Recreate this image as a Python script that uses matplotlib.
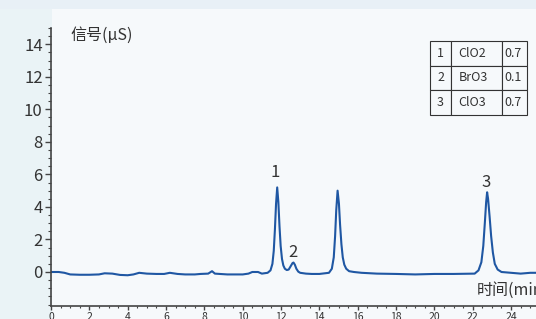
import matplotlib
matplotlib.use("Agg")
import matplotlib.pyplot as plt
from matplotlib.patches import Rectangle
from matplotlib.ticker import MultipleLocator

plt.rcParams['font.family'] = ['Noto Sans CJK SC', 'DejaVu Sans']

# Chromatogram
time_min = [0, 0.4, 0.7, 1.0, 1.5, 2.0, 2.5, 2.8, 3.2, 3.6, 4.0, 4.3, 4.6, 5.0, 5.5,
            5.9, 6.2, 6.6, 7.0, 7.5, 7.8, 8.2, 8.4, 8.55, 8.8, 9.2, 9.6, 10.0, 10.3,
            10.5, 10.8, 11.0, 11.3, 11.45, 11.55, 11.62, 11.68, 11.74, 11.8, 11.86,
            11.92, 11.98, 12.05, 12.12, 12.2, 12.3, 12.4, 12.5, 12.6, 12.65, 12.72,
            12.8, 12.9, 13.0, 13.3, 13.6, 14.0, 14.5, 14.65, 14.75, 14.82, 14.88,
            14.95, 15.02, 15.08, 15.15, 15.22, 15.3, 15.4, 15.55, 15.8, 16.2, 17, 18,
            19, 20, 21, 22.1, 22.3, 22.45, 22.55, 22.63, 22.7, 22.75, 22.8, 22.88,
            22.96, 23.05, 23.15, 23.3, 23.5, 24, 24.5, 25, 25.3]
signal_us = [0, 0.0, -0.05, -0.15, -0.17, -0.17, -0.15, -0.08, -0.1, -0.18, -0.2, -0.15,
             -0.05, -0.1, -0.12, -0.12, -0.05, -0.12, -0.15, -0.15, -0.12, -0.1, 0.05,
             -0.1, -0.12, -0.15, -0.15, -0.15, -0.1, 0.0, 0.0, -0.1, -0.05, 0.1, 0.5,
             1.3, 2.6, 4.2, 5.2, 4.3, 2.8, 1.6, 0.8, 0.4, 0.2, 0.12, 0.15, 0.35, 0.55,
             0.58, 0.45, 0.2, 0.02, -0.05, -0.1, -0.12, -0.12, -0.05, 0.2, 0.9, 2.2,
             3.8, 5.0, 4.2, 2.9, 1.7, 0.9, 0.45, 0.2, 0.05, 0.0, -0.05, -0.1, -0.12,
             -0.15, -0.12, -0.12, -0.1, 0.1, 0.6, 1.6, 3.0, 4.3, 4.9, 4.5, 3.4, 2.2,
             1.2, 0.5, 0.15, 0.0, -0.05, -0.1, -0.05, -0.05]

peak_labels = ["1", "2", "3"]
peak_label_t = [11.7, 12.64, 22.7]
peak_label_y = [6.1, 1.2, 5.5]

table_rows = [["1", "ClO2", "0.7"], ["2", "BrO3", "0.1"], ["3", "ClO3", "0.7"]]

x_ticks = list(range(0, 26, 2))
y_ticks = list(range(0, 15, 2))

W, H = 536, 319
fig = plt.figure(figsize=(W / 100, H / 100), dpi=100)
fig.patch.set_facecolor('#eaf3f6')
fig.patches.append(Rectangle((0, 1 - 9 / H), 1, 9 / H, transform=fig.transFigure,
                             facecolor='#e8f0f6', edgecolor='none', zorder=-5))
fig.patches.append(Rectangle((52 / W, 0), 1, 1 - 9 / H, transform=fig.transFigure,
                             facecolor='#f6f9fb', edgecolor='none', zorder=-5))

ax_left, ax_right, ax_top, ax_bot = 51, 536, 28, 305.5
ax = fig.add_axes([ax_left / W, 1 - ax_bot / H, (ax_right - ax_left) / W, (ax_bot - ax_top) / H])
ax.set_facecolor('none')
ax.set_zorder(2)

ax.plot(time_min, signal_us, color='#1f57a3', lw=1.5, solid_joinstyle='round')
ax.set_xlim(0, 25.3)
ax.set_ylim(-2.06, 15)

ax.set_xticks(x_ticks)
ax.set_yticks(y_ticks)
ax.xaxis.set_minor_locator(MultipleLocator(0.5))
ax.yaxis.set_minor_locator(MultipleLocator(0.5))

for s in ['top', 'right']:
    ax.spines[s].set_visible(False)
for s in ['left', 'bottom']:
    ax.spines[s].set_color('#444444')
    ax.spines[s].set_linewidth(1.2)

ax.tick_params(axis='y', which='major', length=4, width=1, colors='#444444',
               labelsize=12, labelcolor='#333333', pad=2)
ax.tick_params(axis='y', which='minor', length=2, width=0.8, colors='#444444')
ax.tick_params(axis='x', which='major', length=3, width=1, colors='#444444',
               labelsize=7.5, labelcolor='#333333', pad=2)
ax.tick_params(axis='x', which='minor', length=1.5, width=0.8, colors='#444444')

for lab, t, y in zip(peak_labels, peak_label_t, peak_label_y):
    ax.text(t, y, lab, ha='center', va='center', fontsize=12, color='#333333')

fig.text(70 / W, 1 - 35 / H, '信号(μS)', ha='left', va='center', fontsize=11.5, color='#333333')
fig.text(477 / W, 1 - 290 / H, '时间(min)', ha='left', va='center', fontsize=11.5, color='#333333')

# table
tx0, tx1, ty0, ty1 = 430, 527, 41, 115
col_w = [21, 51, 25]
tbl = ax.table(cellText=table_rows, colWidths=[c / sum(col_w) for c in col_w],
               cellLoc='left',
               bbox=[(tx0 - ax_left) / (ax_right - ax_left), (ax_bot - ty1) / (ax_bot - ax_top),
                     (tx1 - tx0) / (ax_right - ax_left), (ty1 - ty0) / (ax_bot - ax_top)])
tbl.auto_set_font_size(False)
tbl.set_fontsize(9)
for (r, c), cell in tbl.get_celld().items():
    cell.set_edgecolor('#333333')
    cell.set_linewidth(0.8)
    cell.set_facecolor('#f6f9fb')
    cell.get_text().set_color('#333333')
    if c == 0:
        cell.get_text().set_horizontalalignment('center')
        cell._loc = 'center'
    cell.PAD = 0.15 if c == 1 else 0.08

fig.savefig('out.png', dpi=100, facecolor=fig.get_facecolor())
